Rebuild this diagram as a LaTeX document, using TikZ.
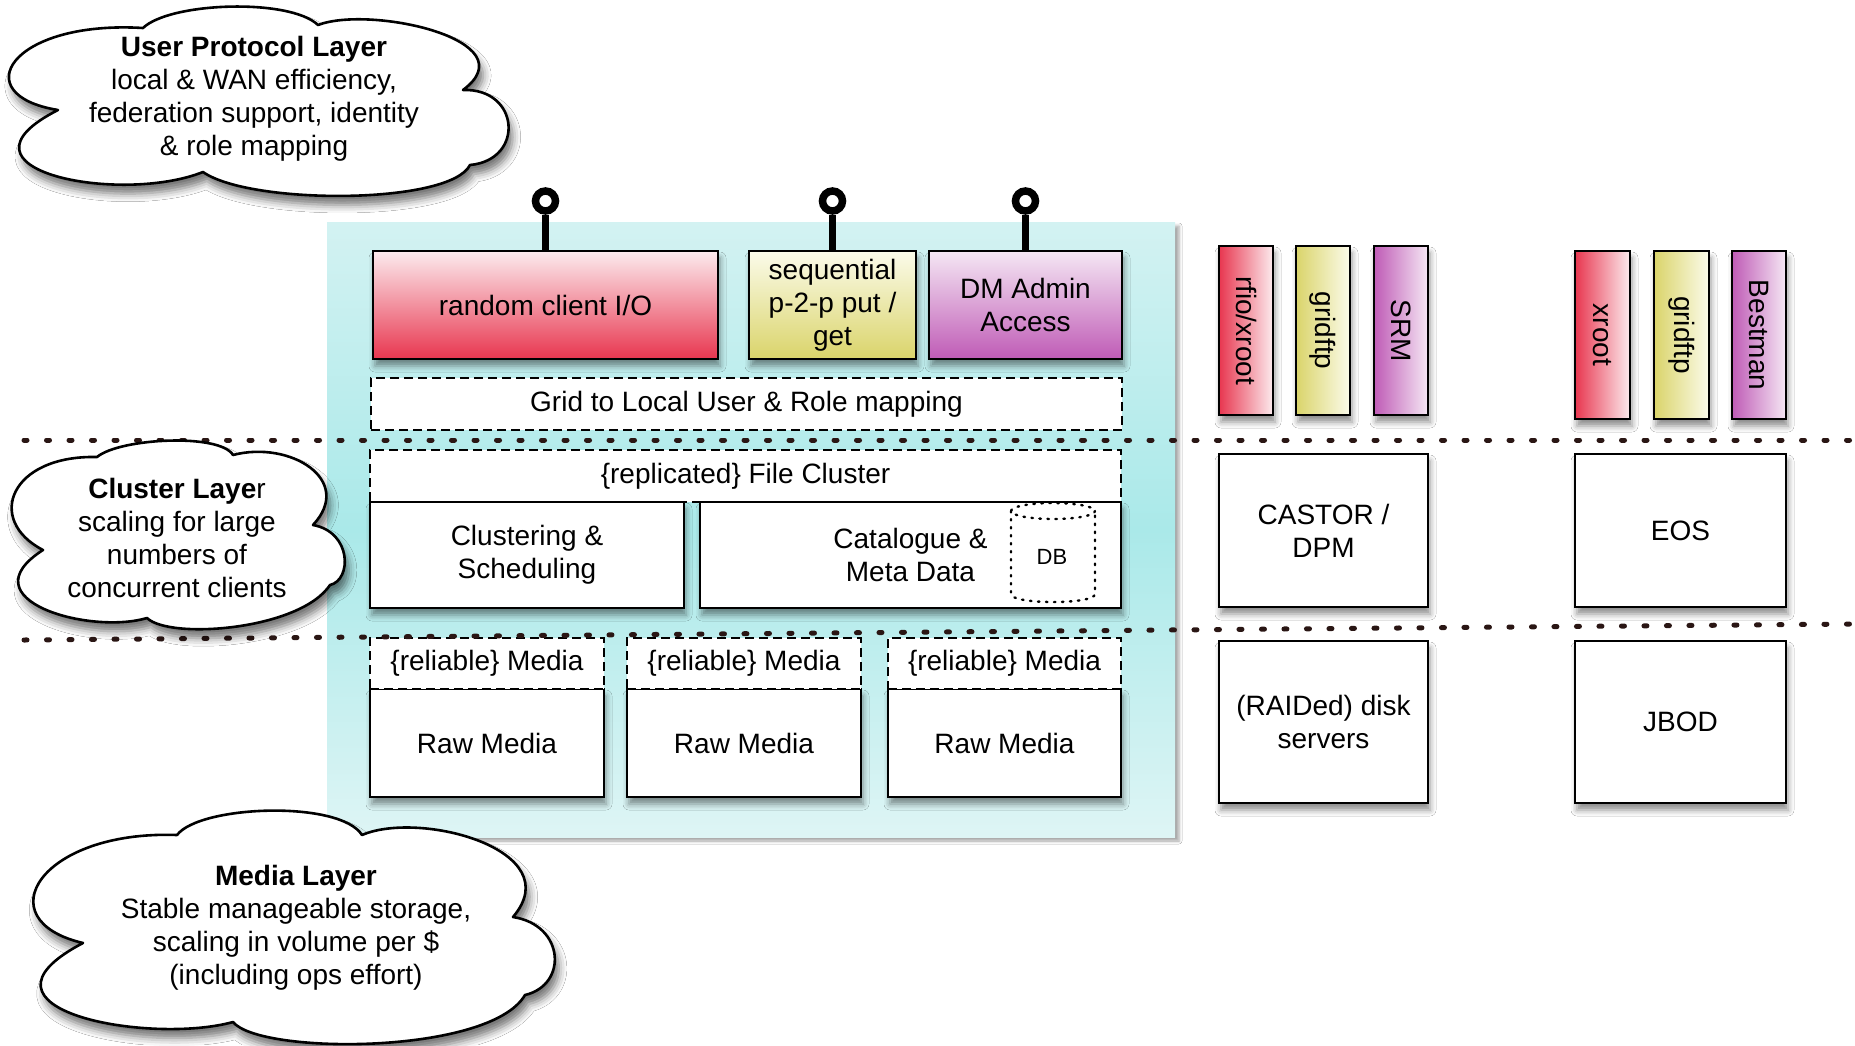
\documentclass[tikz,border=0pt]{standalone}
\usepackage{fontspec}
\setmainfont{Liberation Sans}
\usetikzlibrary{shadows.blur}

\definecolor{redS}{HTML}{E8364F}
\definecolor{redL}{HTML}{FCEBEE}
\definecolor{yelS}{HTML}{DAD46A}
\definecolor{yelL}{HTML}{FBFBEA}
\definecolor{purS}{HTML}{BF5BB6}
\definecolor{purL}{HTML}{F5E7F4}
\definecolor{panM}{HTML}{AAE9E9}
\definecolor{panT}{HTML}{D3F2F2}
\definecolor{panB}{HTML}{DEF5F5}
\definecolor{sepcol}{HTML}{2A1614}

\begin{document}
\begin{tikzpicture}[x=1pt,y=-1pt,
  txt/.style={font=\fontsize{28}{33}\selectfont, align=center, text=black},
  wh/.style 2 args={minimum width=#1pt, minimum height=#2pt},
  softshadow/.style={blur shadow={shadow xshift=2pt, shadow yshift=-7pt, shadow blur radius=6pt, shadow opacity=45}},
  box/.style={txt, rectangle, draw=black, line width=2.6pt, fill=white, inner sep=0pt, outer sep=0pt},
  solidbox/.style={box, softshadow},
  dashbox/.style={box, dash pattern=on 9pt off 5pt},
  pinring/.style={circle, draw=black, fill=white, line width=7.5pt, minimum size=20pt, inner sep=0pt},
  pinstem/.style={draw=black, line width=6.5pt},
  sepline/.style={draw=sepcol, line width=5pt, dash pattern=on 3pt off 19.5pt, line cap=round},
  dbline/.style={draw=black, line width=2.4pt, dash pattern=on 1.5pt off 6.5pt, line cap=round},
  cloudline/.style={draw=black, line width=2.6pt, fill=white, line join=round,
    blur shadow={shadow xshift=4pt, shadow yshift=-9pt, shadow blur radius=8pt, shadow opacity=55}},
  panel/.style={top color=panT, bottom color=panB, middle color=panM,
    blur shadow={shadow xshift=4pt, shadow yshift=-4pt, shadow blur radius=3pt, shadow opacity=35}}
]

% canvas
\fill[white] (0,0) rectangle (1855,1045);
\useasboundingbox (0,0) rectangle (1855,1045);

% storage element background
\path[panel] (327,222) rectangle (1175,837);

% user protocol layer
\node[solidbox, wh={345}{108}, top color=redL, bottom color=redS] (rio) at (545.5,305) {random client I/O};
\node[solidbox, wh={167}{108}, top color=yelL, bottom color=yelS] (seq) at (832.5,305) {sequential\\p-2-p put /\\get};
\node[solidbox, wh={193}{108}, top color=purL, bottom color=purS] (dma) at (1025.5,305) {DM Admin\\Access};

\node[pinring] (pin1) at (545.5,201) {};
\node[pinring] (pin2) at (832.5,201) {};
\node[pinring] (pin3) at (1025.5,201) {};
\draw[pinstem] (pin1.south) -- (rio.north);
\draw[pinstem] (pin2.south) -- (seq.north);
\draw[pinstem] (pin3.south) -- (dma.north);

\node[dashbox, wh={751}{52}] (grid) at (746.5,404) {Grid to Local User \& Role mapping};

% cluster layer
\node[dashbox, wh={751}{52}] (repl) at (745.5,476) {\{replicated\} File Cluster};
\node[solidbox, wh={314}{106}] (clus) at (527,555) {Clustering \&\\Scheduling};
\node[solidbox, wh={421}{106}] (cata) at (910.5,555) {Catalogue \&\\Meta Data};
\draw[dbline] (1053,511) ellipse [x radius=42, y radius=8];
\draw[dbline] (1011,511) -- (1011,594) .. controls (1011,604.7) and (1095,604.7) .. (1095,594) -- (1095,511);
\node[txt, font=\fontsize{22}{26}\selectfont] (db) at (1052,557) {DB};

% media layer
\node[solidbox, wh={234}{108}] (raw1) at (487,743) {Raw Media};
\node[solidbox, wh={234}{108}] (raw2) at (744,743) {Raw Media};
\node[solidbox, wh={233}{108}] (raw3) at (1004.5,743) {Raw Media};
\node[dashbox, wh={234}{51}] (rel1) at (487,663.5) {\{reliable\} Media};
\node[dashbox, wh={234}{51}] (rel2) at (744,663.5) {\{reliable\} Media};
\node[dashbox, wh={233}{51}] (rel3) at (1004.5,663.5) {\{reliable\} Media};

% CASTOR / DPM column
\node[solidbox, wh={54}{169}, left color=redS, right color=redL] (rfio) at (1246,330.5) {\rotatebox{-90}{rfio/xroot}};
\node[solidbox, wh={54}{169}, left color=yelS, right color=yelL] (gftpA) at (1323,330.5) {\rotatebox{-90}{gridftp}};
\node[solidbox, wh={54}{169}, left color=purS, right color=purL] (srm) at (1401,330.5) {\rotatebox{-90}{SRM}};
\node[solidbox, wh={209}{153}] (castor) at (1323.5,530.5) {CASTOR /\\DPM};
\node[solidbox, wh={209}{162}] (raid) at (1323.5,722) {(RAIDed) disk\\servers};

% EOS column
\node[solidbox, wh={55}{168}, left color=redS, right color=redL] (xroot) at (1602.5,335) {\rotatebox{-90}{xroot}};
\node[solidbox, wh={55}{168}, left color=yelS, right color=yelL] (gftpB) at (1681.5,335) {\rotatebox{-90}{gridftp}};
\node[solidbox, wh={54}{168}, left color=purS, right color=purL] (best) at (1759,335) {\rotatebox{-90}{Bestman}};
\node[solidbox, wh={211}{153}] (eos) at (1680.5,530.5) {EOS};
\node[solidbox, wh={211}{162}] (jbod) at (1680.5,722) {JBOD};

% layer separators
\coordinate (s1a) at (24,440);
\coordinate (s1b) at (1855,440);
\coordinate (s2a) at (24,640);
\coordinate (s2b) at (1855,624);
\draw[sepline] (s1a) -- (s1b);
\draw[sepline] (s2a) -- (s2b);

% layer clouds
\path[cloudline] (143,28) .. controls (170,2) and (290,-2) .. (318,25)
  .. controls (370,5) and (530,40) .. (463,90)
  .. controls (520,88) and (525,160) .. (470,165)
  .. controls (450,205) and (250,205) .. (203,172)
  .. controls (120,205) and (-60,170) .. (58,110)
  .. controls (-35,95) and (10,20) .. (143,28) -- cycle;
\node[txt] (upl) at (254,99) {\textbf{User Protocol Layer}\\local \& WAN efficiency,\\federation support, identity\\\& role mapping};

\path[cloudline] (97,457) .. controls (120,438) and (220,433) .. (233,455)
  .. controls (290,440) and (355,480) .. (313,525)
  .. controls (352,532) and (352,580) .. (330,585)
  .. controls (300,630) and (170,640) .. (147,618)
  .. controls (90,635) and (-35,600) .. (43,550)
  .. controls (-15,520) and (10,455) .. (97,457) -- cycle;
\node[txt] (cll) at (177,538) {\textbf{Cluster Laye}r\\scaling for large\\numbers of\\concurrent clients};

\path[cloudline] (177,835) .. controls (200,805) and (340,800) .. (362,835)
  .. controls (420,810) and (570,850) .. (513,917)
  .. controls (565,925) and (568,985) .. (525,995)
  .. controls (490,1055) and (260,1055) .. (233,1022)
  .. controls (150,1045) and (-45,1010) .. (83,943)
  .. controls (-15,920) and (40,830) .. (177,835) -- cycle;
\node[txt] (mel) at (296,928) {\textbf{Media Layer}\\Stable manageable storage,\\scaling in volume per \$\\(including ops effort)};

\end{tikzpicture}
\end{document}
